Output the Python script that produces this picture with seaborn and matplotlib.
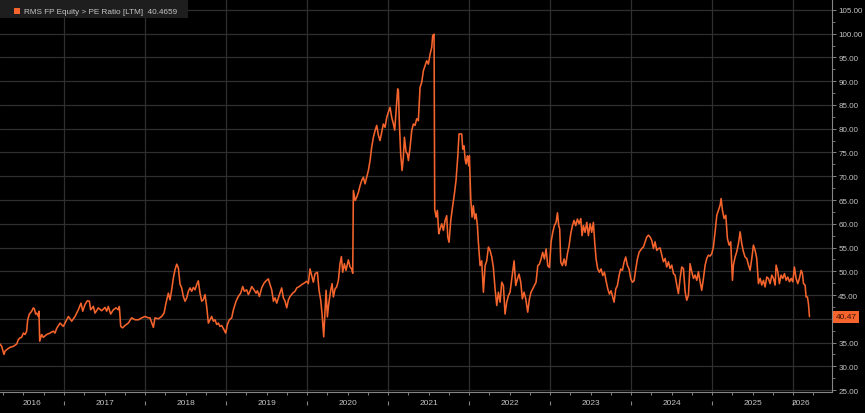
import matplotlib
matplotlib.use("Agg")
import matplotlib.pyplot as plt
import matplotlib.transforms as mtrans
from matplotlib.patches import Rectangle
from matplotlib.ticker import MultipleLocator, FixedLocator, FuncFormatter, NullFormatter
import seaborn as sns
import pandas as pd

# ---------------- data (decimal years, PE ratio) ----------------
series_name = "RMS FP Equity > PE Ratio [LTM]"
last_value = 40.4659
year_labels = list(range(2016, 2027))
y_ticks = list(range(25, 106, 5))

t_2016_17 = [2016.210, 2016.231, 2016.259, 2016.272, 2016.292, 2016.333, 2016.375, 2016.416, 2016.436, 2016.457,
             2016.477, 2016.498, 2016.519, 2016.539, 2016.552, 2016.572, 2016.601, 2016.621, 2016.634, 2016.650,
             2016.663, 2016.683, 2016.691, 2016.700, 2016.724, 2016.745, 2016.786, 2016.827, 2016.868, 2016.889,
             2016.910, 2016.951, 2016.992, 2017.012, 2017.054, 2017.095, 2017.136, 2017.177, 2017.210, 2017.231,
             2017.259, 2017.288, 2017.313, 2017.329, 2017.362, 2017.383, 2017.424, 2017.465, 2017.506, 2017.527,
             2017.547, 2017.576, 2017.609, 2017.642, 2017.671, 2017.683, 2017.700, 2017.724, 2017.753, 2017.794,
             2017.835, 2017.877, 2017.918, 2017.959, 2018.000, 2018.041]
pe_2016_17 = [34.7, 34.2, 32.5, 33.2, 33.5, 34.0, 34.2, 34.7, 35.6, 36.0,
              36.1, 37.0, 36.7, 37.4, 39.8, 41.0, 41.6, 42.3, 42.1, 41.0,
              41.2, 40.5, 41.6, 35.3, 36.7, 36.1, 36.7, 37.0, 37.4, 37.0,
              38.0, 39.1, 38.4, 39.1, 40.5, 39.5, 40.5, 41.9, 43.3, 41.6,
              43.0, 43.8, 43.7, 41.9, 42.6, 41.2, 42.3, 41.7, 42.4, 41.6,
              42.6, 41.0, 41.9, 42.3, 41.9, 42.6, 38.4, 38.1, 38.6, 39.1,
              40.2, 39.8, 39.8, 40.2, 40.5, 40.2]

t_2018_19 = [2018.062, 2018.103, 2018.123, 2018.165, 2018.206, 2018.235, 2018.259, 2018.288, 2018.309, 2018.329,
             2018.350, 2018.370, 2018.391, 2018.412, 2018.432, 2018.453, 2018.473, 2018.494, 2018.515, 2018.535,
             2018.556, 2018.576, 2018.597, 2018.617, 2018.638, 2018.658, 2018.679, 2018.700, 2018.720, 2018.741,
             2018.761, 2018.782, 2018.803, 2018.823, 2018.844, 2018.864, 2018.885, 2018.905, 2018.926, 2018.947,
             2018.975, 2018.996, 2019.017, 2019.041, 2019.070, 2019.091, 2019.124, 2019.152, 2019.181, 2019.206,
             2019.226, 2019.255, 2019.276, 2019.296, 2019.317, 2019.346, 2019.370, 2019.387, 2019.412, 2019.440,
             2019.469, 2019.494, 2019.523, 2019.543, 2019.564, 2019.585, 2019.605, 2019.626, 2019.659, 2019.687,
             2019.708, 2019.729, 2019.749, 2019.770, 2019.790, 2019.823, 2019.852, 2019.873, 2019.905, 2019.934,
             2019.963, 2019.996]
pe_2018_19 = [40.2, 38.2, 40.2, 40.0, 40.5, 41.2, 43.3, 45.4, 44.0, 46.1,
              48.6, 50.3, 51.5, 50.7, 47.3, 46.5, 44.7, 43.7, 44.4, 45.8,
              46.5, 45.8, 46.6, 46.1, 47.2, 48.0, 45.4, 43.7, 44.0, 45.1,
              42.6, 39.1, 39.8, 40.5, 39.5, 39.8, 38.8, 39.1, 38.4, 38.6,
              37.7, 37.0, 38.8, 39.8, 40.2, 41.9, 43.7, 44.7, 45.4, 46.8,
              45.8, 46.1, 45.1, 45.8, 46.8, 46.1, 45.4, 45.9, 44.7, 46.5,
              47.5, 48.0, 48.4, 47.2, 46.1, 43.7, 44.4, 43.3, 45.1, 46.5,
              44.4, 43.7, 42.3, 44.0, 44.7, 45.4, 45.8, 46.5, 46.8, 47.2,
              47.5, 47.9]

t_2020_21 = [2020.016, 2020.037, 2020.058, 2020.078, 2020.099, 2020.128, 2020.148, 2020.169, 2020.185, 2020.206,
             2020.222, 2020.235, 2020.251, 2020.268, 2020.292, 2020.309, 2020.325, 2020.346, 2020.366, 2020.387,
             2020.407, 2020.424, 2020.440, 2020.461, 2020.481, 2020.510, 2020.531, 2020.551, 2020.564, 2020.572,
             2020.593, 2020.613, 2020.634, 2020.654, 2020.675, 2020.695, 2020.716, 2020.737, 2020.757, 2020.778,
             2020.798, 2020.819, 2020.840, 2020.860, 2020.881, 2020.901, 2020.922, 2020.942, 2020.963, 2020.984,
             2021.004, 2021.025, 2021.045, 2021.066, 2021.082, 2021.099, 2021.119, 2021.128, 2021.140, 2021.156,
             2021.173, 2021.189, 2021.202, 2021.222, 2021.239, 2021.251, 2021.272, 2021.292, 2021.313, 2021.333,
             2021.354, 2021.374, 2021.395, 2021.416, 2021.436, 2021.457, 2021.477, 2021.498, 2021.519, 2021.539,
             2021.551, 2021.568, 2021.576, 2021.593, 2021.609, 2021.626, 2021.642, 2021.663, 2021.683, 2021.704,
             2021.724, 2021.737, 2021.753, 2021.774, 2021.798, 2021.819, 2021.839, 2021.860, 2021.876]
pe_2020_21 = [47.4, 50.5, 49.1, 47.7, 49.5, 49.8, 46.0, 43.9, 41.1, 36.2,
              41.8, 46.0, 40.4, 43.2, 46.0, 47.4, 44.6, 46.3, 46.7, 48.1,
              51.6, 53.1, 49.8, 51.6, 50.2, 52.4, 50.9, 50.5, 49.6, 67.0,
              64.9, 65.6, 66.6, 68.0, 69.1, 69.8, 68.4, 69.8, 71.2, 73.3,
              76.1, 78.2, 79.6, 80.7, 78.6, 77.5, 79.3, 81.0, 80.3, 82.4,
              83.5, 84.5, 82.4, 81.0, 79.7, 83.8, 88.4, 88.0, 81.0, 74.7,
              71.2, 74.0, 78.2, 75.1, 74.7, 73.3, 76.1, 79.6, 81.0, 80.7,
              82.1, 81.7, 88.7, 89.8, 92.2, 93.3, 94.3, 93.6, 95.7, 97.1,
              99.6, 99.9, 63.1, 61.4, 62.8, 57.9, 58.9, 60.0, 58.6, 60.7,
              61.7, 57.2, 56.1, 60.7, 63.8, 66.3, 69.1, 74.0, 78.9]

t_2022_23 = [2021.909, 2021.922, 2021.938, 2021.951, 2021.963, 2021.979, 2021.996, 2022.004, 2022.021, 2022.037,
             2022.053, 2022.070, 2022.086, 2022.103, 2022.115, 2022.136, 2022.156, 2022.177, 2022.198, 2022.218,
             2022.239, 2022.259, 2022.280, 2022.300, 2022.321, 2022.342, 2022.362, 2022.383, 2022.403, 2022.424,
             2022.444, 2022.465, 2022.486, 2022.506, 2022.527, 2022.556, 2022.576, 2022.597, 2022.617, 2022.638,
             2022.658, 2022.679, 2022.700, 2022.724, 2022.745, 2022.765, 2022.786, 2022.807, 2022.827, 2022.848,
             2022.868, 2022.889, 2022.909, 2022.930, 2022.951, 2022.971, 2022.992, 2023.012, 2023.033, 2023.053,
             2023.074, 2023.091, 2023.107, 2023.119, 2023.132, 2023.152, 2023.173, 2023.193, 2023.214, 2023.235,
             2023.255, 2023.276, 2023.296, 2023.317, 2023.337, 2023.358, 2023.379, 2023.395, 2023.412, 2023.432,
             2023.453, 2023.473, 2023.494, 2023.514, 2023.535, 2023.551, 2023.568, 2023.588, 2023.609, 2023.630,
             2023.650, 2023.671, 2023.691, 2023.712, 2023.733, 2023.753, 2023.774, 2023.790, 2023.811, 2023.831,
             2023.852, 2023.872, 2023.893, 2023.913, 2023.934, 2023.955, 2023.975, 2023.996, 2024.016, 2024.037,
             2024.058, 2024.078, 2024.099]
pe_2022_23 = [78.9, 75.7, 76.4, 73.6, 72.6, 74.3, 72.2, 74.3, 65.2, 61.4,
              63.8, 61.0, 62.1, 59.6, 56.1, 51.2, 52.2, 45.6, 51.2, 52.2,
              55.1, 54.4, 53.0, 50.8, 46.3, 42.8, 45.6, 43.5, 47.7, 47.0,
              41.0, 43.5, 44.9, 45.6, 48.4, 52.2, 47.0, 48.4, 49.4, 47.7,
              44.2, 45.6, 44.2, 41.4, 44.2, 45.6, 46.3, 47.0, 47.7, 51.2,
              51.5, 52.6, 54.0, 52.6, 54.7, 51.2, 50.8, 56.1, 58.2, 59.6,
              60.3, 62.3, 59.6, 58.9, 51.9, 51.2, 52.6, 51.2, 53.7, 55.4,
              57.9, 59.6, 60.7, 59.6, 61.0, 60.0, 61.1, 57.5, 59.6, 58.2,
              60.3, 57.5, 60.0, 58.2, 60.3, 56.1, 52.6, 50.5, 49.8, 50.5,
              49.1, 49.8, 48.0, 46.3, 45.2, 45.9, 44.5, 43.5, 46.3, 47.0,
              49.1, 50.5, 50.2, 51.9, 53.0, 51.2, 50.5, 48.4, 47.7, 48.0,
              50.5, 52.6, 54.0]

t_2024_26 = [2024.132, 2024.152, 2024.173, 2024.193, 2024.214, 2024.235, 2024.255, 2024.276, 2024.296, 2024.317,
             2024.337, 2024.358, 2024.379, 2024.399, 2024.420, 2024.440, 2024.461, 2024.481, 2024.502, 2024.523,
             2024.543, 2024.564, 2024.584, 2024.605, 2024.625, 2024.646, 2024.667, 2024.687, 2024.708, 2024.728,
             2024.749, 2024.770, 2024.790, 2024.811, 2024.831, 2024.852, 2024.872, 2024.893, 2024.914, 2024.934,
             2024.955, 2024.975, 2024.996, 2025.016, 2025.037, 2025.058, 2025.078, 2025.099, 2025.111, 2025.128,
             2025.148, 2025.169, 2025.189, 2025.210, 2025.230, 2025.251, 2025.263, 2025.284, 2025.304, 2025.325,
             2025.346, 2025.366, 2025.387, 2025.407, 2025.428, 2025.449, 2025.469, 2025.490, 2025.510, 2025.531,
             2025.551, 2025.572, 2025.593, 2025.613, 2025.634, 2025.654, 2025.675, 2025.695, 2025.716, 2025.737,
             2025.757, 2025.778, 2025.790, 2025.811, 2025.831, 2025.852, 2025.872, 2025.893, 2025.914, 2025.934,
             2025.955, 2025.975, 2025.996, 2026.016, 2026.037, 2026.058, 2026.078, 2026.099, 2026.115, 2026.128,
             2026.148, 2026.160, 2026.177, 2026.189, 2026.202]
pe_2024_26 = [54.8, 55.1, 56.2, 57.2, 57.6, 57.2, 56.5, 54.8, 56.2, 54.4,
              54.8, 54.9, 53.4, 52.0, 52.7, 50.9, 52.0, 50.6, 51.3, 49.5,
              49.2, 47.1, 45.3, 48.5, 50.9, 50.6, 45.7, 43.9, 45.0, 51.6,
              49.9, 48.5, 49.2, 48.1, 49.9, 47.8, 46.0, 48.5, 51.3, 52.7,
              53.4, 53.2, 53.7, 55.1, 58.3, 61.8, 62.8, 63.9, 65.3, 62.8,
              61.1, 61.8, 56.9, 55.5, 56.2, 48.1, 51.3, 53.0, 54.1, 55.8,
              58.3, 55.8, 54.1, 53.0, 52.7, 51.3, 50.2, 52.7, 55.5, 54.4,
              52.7, 47.4, 48.5, 47.1, 48.1, 46.7, 48.8, 48.5, 47.4, 49.2,
              48.5, 47.1, 51.3, 49.9, 47.4, 49.2, 48.5, 49.5, 48.1, 48.8,
              47.8, 48.5, 47.8, 50.9, 48.5, 47.4, 48.5, 50.2, 49.5, 47.4,
              47.1, 44.6, 44.6, 43.2, 40.4659]

years = t_2016_17 + t_2018_19 + t_2020_21 + t_2022_23 + t_2024_26
pe_ratio = pe_2016_17 + pe_2018_19 + pe_2020_21 + pe_2022_23 + pe_2024_26
df = pd.DataFrame({"year": years, "pe": pe_ratio})

# ---------------- style ----------------
ORANGE = "#f4642c"
GRID = "#2f2f2f"
AXIS = "#858585"
TXT = "#c4c4c4"

sns.set_style("dark")
plt.rcParams["font.family"] = ["Liberation Sans", "DejaVu Sans"]

W, H = 865, 414
fig = plt.figure(figsize=(W / 100, H / 100), dpi=100, facecolor="black")
ax = fig.add_axes([0, 1 - 393 / H, 832 / W, 393 / H])
ax.set_facecolor("black")

sns.lineplot(data=df, x="year", y="pe", ax=ax, color=ORANGE, linewidth=1.15,
             estimator=None, sort=False, zorder=3)
ax.set_xlabel("")
ax.set_ylabel("")

ax.set_xlim(2016.21, 2026.48)
ax.set_ylim(24.6, 107.3)

# the last-value badge sits where the 40.00 label would be
def ylab(v, pos):
    return "" if abs(v - 40) < 1e-6 else f"{v:.2f}"

ax.xaxis.set_major_locator(FixedLocator(year_labels[1:]))
ax.xaxis.set_minor_locator(MultipleLocator(0.25))
ax.xaxis.set_major_formatter(NullFormatter())
ax.yaxis.set_major_locator(FixedLocator(y_ticks))
ax.yaxis.set_minor_locator(MultipleLocator(2.5))
ax.yaxis.set_major_formatter(FuncFormatter(ylab))
ax.grid(True, which="major", color=GRID, linewidth=0.9)
ax.grid(False, which="minor")

ax.yaxis.tick_right()
ax.tick_params(axis="y", which="major", direction="out", length=3, width=0.7,
               color=AXIS, labelcolor=TXT, labelsize=5.8, pad=1.5, right=True, left=False)
ax.tick_params(axis="y", which="minor", direction="out", length=2, width=0.6,
               color=AXIS, right=True, left=False)
ax.tick_params(axis="x", which="both", direction="out", length=2.5, width=0.7,
               color=AXIS, bottom=True)

for s in ["top", "left"]:
    ax.spines[s].set_visible(False)
for s in ["right", "bottom"]:
    ax.spines[s].set_visible(True)
    ax.spines[s].set_color(AXIS)
    ax.spines[s].set_linewidth(0.8)

# year labels centred on each visible year span, with separators
bt = mtrans.blended_transform_factory(ax.transData, ax.transAxes)
x_first, x_last = years[0], years[-1]
for yr in year_labels:
    a, b = max(yr, x_first), min(yr + 1, x_last)
    ax.text((a + b) / 2, -11 / 393, str(yr), transform=bt, ha="center", va="center",
            fontsize=6.0, color=TXT, clip_on=False)
ax.vlines(year_labels[1:], -0.023, -0.034, transform=bt, colors=AXIS,
          linewidth=0.8, clip_on=False)

# last value badge
rt = mtrans.blended_transform_factory(ax.transAxes, ax.transData)
ax.text(1.004, last_value, f"{last_value:.2f}", transform=rt, ha="left", va="center",
        fontsize=6.0, color="#3b1205", clip_on=False, zorder=20,
        bbox=dict(boxstyle="square,pad=0.3", fc=ORANGE, ec="none"))

# legend box
fig.add_artist(Rectangle((0, 1 - 19 / H), 188 / W, 19 / H, transform=fig.transFigure,
                         facecolor="#1e1e1e", edgecolor="none", zorder=10))
fig.add_artist(Rectangle((14 / W, 1 - 15 / H), 6 / W, 6 / H, transform=fig.transFigure,
                         facecolor=ORANGE, edgecolor="none", zorder=11))
fig.text(24 / W, 1 - 12 / H, f"{series_name}  {last_value}", ha="left", va="center",
         fontsize=5.85, color=TXT, zorder=12)

fig.savefig("out.png", dpi=100, facecolor="black")
